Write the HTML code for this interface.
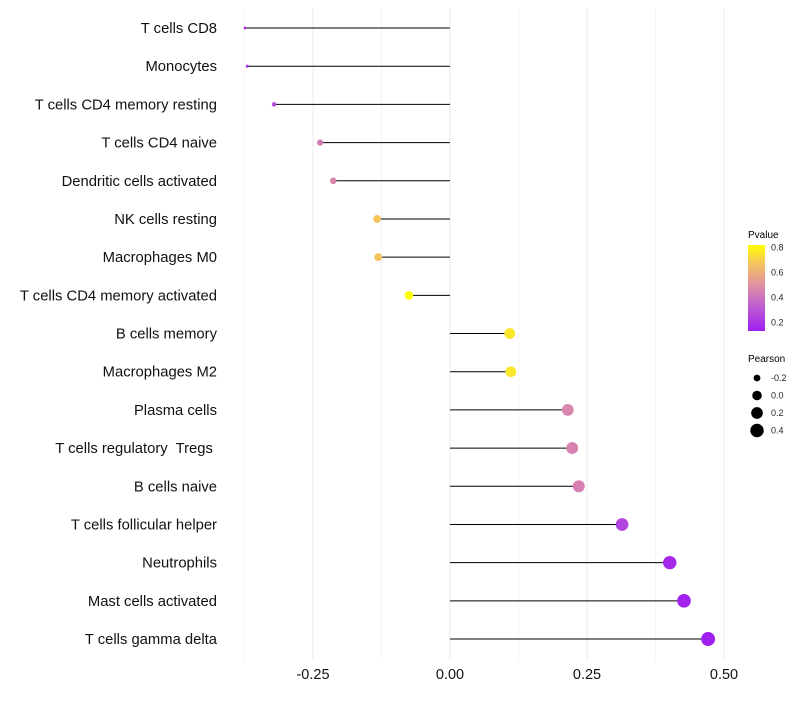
<!DOCTYPE html>
<html><head><meta charset="utf-8"><style>
body{margin:0;background:#fff;font-family:"Liberation Sans",sans-serif;}
svg text{font-family:"Liberation Sans",sans-serif;white-space:pre;}
</style></head><body>
<svg id="chart" width="800" height="700">
<defs><linearGradient id="pg" x1="0" y1="1" x2="0" y2="0">
<stop offset="0" stop-color="#a020f0"/><stop offset="0.3" stop-color="#c060d0"/>
<stop offset="0.55" stop-color="#e3949e"/><stop offset="0.8" stop-color="#f5c85a"/>
<stop offset="1" stop-color="#ffff00"/></linearGradient></defs>
<g id="grid"></g>
<g id="marks"></g>
<g id="labels"></g>
<g id="xticks"></g>
<g>
<text x="748" y="238" font-size="10">Pvalue</text>
<rect x="748" y="245" width="17" height="86" fill="url(#pg)"/>
<g id="cbticks"></g>
</g>
<g id="sizeleg">
<text x="748" y="362" font-size="10">Pearson</text>
</g>
</svg>
<script>
const cells=["T cells CD8","Monocytes","T cells CD4 memory resting","T cells CD4 naive","Dendritic cells activated","NK cells resting","Macrophages M0","T cells CD4 memory activated","B cells memory","Macrophages M2","Plasma cells","T cells regulatory  Tregs ","B cells naive","T cells follicular helper","Neutrophils","Mast cells activated","T cells gamma delta"];
const pearson=[-0.374,-0.370,-0.321,-0.237,-0.213,-0.133,-0.131,-0.075,0.109,0.111,0.215,0.223,0.235,0.314,0.401,0.427,0.471];
const pvalue=[0.18,0.19,0.28,0.42,0.46,0.68,0.68,0.82,0.76,0.76,0.46,0.45,0.44,0.25,0.16,0.14,0.12];
const xTicks=[-0.25,0,0.25,0.5];
const xTickLabels=["-0.25","0.00","0.25","0.50"];
const sizeLegend=[-0.2,0,0.2,0.4];
const pTicks=[0.2,0.4,0.6,0.8];

const NS="http://www.w3.org/2000/svg";
const x=v=>450+v*548;
const y=i=>28+i*38.19;
const rad=p=>Math.sqrt(Math.max(1,22.85+55.65*p));
const pY=p=>331-(p-0.13)/(0.82-0.13)*86;
function col(p){
 const st=[[0.13,[160,32,240]],[0.34,[192,96,208]],[0.51,[227,148,158]],[0.69,[245,200,90]],[0.82,[255,255,0]]];
 p=Math.max(0.13,Math.min(0.82,p));
 for(let k=0;k<st.length-1;k++){const a=st[k],b=st[k+1];if(p<=b[0]){const t=(p-a[0])/(b[0]-a[0]);return"rgb("+a[1].map((c,j)=>Math.round(c+(b[1][j]-c)*t)).join(",")+")";}}
 return"rgb(255,255,0)";}
function mk(tag,attrs,parent){const e=document.createElementNS(NS,tag);for(const k in attrs)e.setAttribute(k,attrs[k]);document.getElementById(parent).appendChild(e);return e;}
for(let k=0;k<xTicks.length;k++){
 const g=mk("line",{x1:x(xTicks[k]),x2:x(xTicks[k]),y1:8,y2:660,stroke:"#ebebeb","stroke-width":1},"grid");
 
 
 const m=mk("line",{x1:x(xTicks[k]-0.125),x2:x(xTicks[k]-0.125),y1:8,y2:660,stroke:"#f4f4f4","stroke-width":1},"grid");
 
 
 const t=mk("text",{x:x(xTicks[k]),y:679,"font-size":14.5,"text-anchor":"middle",fill:"#111"},"xticks");
 t.textContent=xTickLabels[k];
 
 
}
for(let i=0;i<cells.length;i++){
 const s=mk("line",{x1:x(0),x2:x(pearson[i]),y1:y(i),y2:y(i),stroke:"#000","stroke-width":1},"marks");
 
 
 const c=mk("circle",{cx:x(pearson[i]),cy:y(i),r:rad(pearson[i]),fill:col(pvalue[i])},"marks");
 
 
 const l=mk("text",{x:217,y:y(i)+5,"font-size":14.8,"text-anchor":"end",fill:"#111"},"labels");
 l.textContent=cells[i];
 
 
}
for(const p of pTicks){
 const t=mk("text",{x:771,y:pY(p)+3,"font-size":9,fill:"#222"},"cbticks");
 t.textContent=p.toFixed(1);
 
 
}
sizeLegend.forEach((p,k)=>{
 const c=mk("circle",{cx:757,cy:378+k*17.5,r:rad(p),fill:"#000"},"sizeleg");
 
 
 const t=mk("text",{x:771,y:381+k*17.5,"font-size":9,fill:"#222"},"sizeleg");
 t.textContent=p.toFixed(1);
 
 
});
</script>
</body></html>
